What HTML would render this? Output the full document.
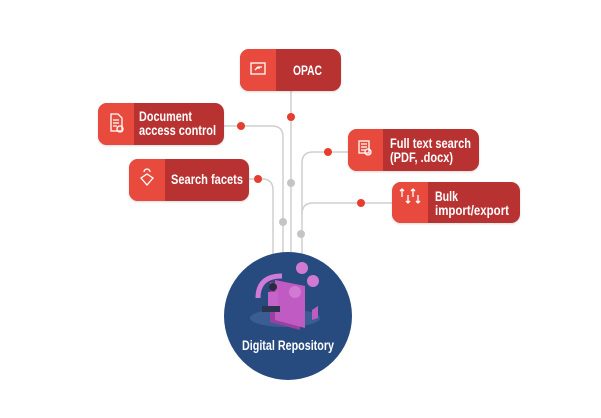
<!DOCTYPE html>
<html><head><style>
html,body{margin:0;padding:0;background:#fff;}
svg{display:block;}
text{font-family:"Liberation Sans",sans-serif;font-weight:bold;fill:#fff;font-size:13.5px;}
</style></head><body>
<svg width="601" height="418" viewBox="0 0 601 418" xmlns="http://www.w3.org/2000/svg">
<defs>
<filter id="sh" x="-10%" y="-20%" width="120%" height="140%"><feDropShadow dx="0" dy="1" stdDeviation="1" flood-color="#000" flood-opacity="0.15"/></filter>
<clipPath id="c1"><rect x="240" y="49" width="101" height="42" rx="9"/></clipPath>
<clipPath id="c2"><rect x="98" y="103" width="126" height="42" rx="9"/></clipPath>
<clipPath id="c3"><rect x="129" y="159" width="120" height="42" rx="9"/></clipPath>
<clipPath id="c4"><rect x="348" y="129" width="131" height="42" rx="9"/></clipPath>
<clipPath id="c5"><rect x="392" y="182" width="128" height="41" rx="9"/></clipPath>
</defs>
<g fill="none" stroke="#cfcfcf" stroke-width="1.5">
<path d="M291 91 V260"/>
<path d="M224 126 H272 Q283 126 283 137 V260"/>
<path d="M249 179 H262 Q273 179 273 190 V260"/>
<path d="M348 152 H313 Q302 152 302 163 V260"/>
<path d="M392 203 H313 Q302 203 302 214"/>
</g>
<g fill="#e53d2f">
<circle cx="291" cy="117" r="4"/>
<circle cx="241" cy="126" r="4"/>
<circle cx="258" cy="179" r="4"/>
<circle cx="328" cy="152" r="4"/>
<circle cx="361" cy="203" r="4"/>
</g>
<g fill="#c4c4c4">
<circle cx="291" cy="183" r="4"/>
<circle cx="283" cy="222" r="4"/>
<circle cx="301" cy="234" r="4"/>
</g>
<circle cx="288" cy="316" r="64" fill="#274a7f"/>
<ellipse cx="285" cy="318" rx="35" ry="9" fill="#3a5d94"/>
<path d="M270 282 L300 288 L300 330 L270 322 Z" fill="#9b3fa0"/>
<path d="M275 280 L305 286 L305 328 L275 320 Z" fill="#c15bc4"/>
<path d="M258 298 Q258 276 282 276" fill="none" stroke="#d27bd6" stroke-width="5"/>
<circle cx="302" cy="268" r="6" fill="#d07ad3"/>
<circle cx="313" cy="281" r="6" fill="#d07ad3"/>
<circle cx="295" cy="292" r="6" fill="#d07ad3"/>
<circle cx="273" cy="287" r="4" fill="#2a2a3a"/>
<path d="M268 292 h10 v14 h-10z" fill="#c663c9"/>
<path d="M262 306 h18 v6 h-18z" fill="#2a3650"/>
<path d="M312 310 l6 -4 l0 12 l-6 2z" fill="#c15bc4"/>
<text x="288" y="350" text-anchor="middle" font-size="14" textLength="92" lengthAdjust="spacingAndGlyphs">Digital Repository</text>
<g filter="url(#sh)">
<g clip-path="url(#c1)"><rect x="240" y="49" width="101" height="42" fill="#b83333"/><rect x="240" y="49" width="36" height="42" fill="#e84c3d"/></g>
<g clip-path="url(#c2)"><rect x="98" y="103" width="126" height="42" fill="#b83333"/><rect x="98" y="103" width="36" height="42" fill="#e84c3d"/></g>
<g clip-path="url(#c3)"><rect x="129" y="159" width="120" height="42" fill="#b83333"/><rect x="129" y="159" width="36" height="42" fill="#e84c3d"/></g>
<g clip-path="url(#c4)"><rect x="348" y="129" width="131" height="42" fill="#b83333"/><rect x="348" y="129" width="35" height="42" fill="#e84c3d"/></g>
<g clip-path="url(#c5)"><rect x="392" y="182" width="128" height="41" fill="#b83333"/><rect x="392" y="182" width="36" height="41" fill="#e84c3d"/></g>
</g>
<g fill="none" stroke="#fff" stroke-width="1.3">
<rect x="251" y="63" width="14" height="11"/>
<path d="M255 70 l3 -3 h4 M256 68 h4"/>
<path d="M111 114 h7 l4 4 v13 h-11z M113 120 h6 M113 123 h6 M113 126 h4"/>
<circle cx="120" cy="129" r="3"/>
<path d="M141 178 l6 -4 l6 4 l-6 7z M144 172 a3 3 0 1 1 6 0"/>
<path d="M359 141 h10 v12 h-10z M361 144 h6 M361 147 h6 M361 150 h4"/>
<circle cx="368" cy="152" r="3"/>
<path d="M402 197 v-8 m-2 2 l2 -2 l2 2 M408 195 v8 m-2 -2 l2 2 l2 -2 M413 197 v-8 m-2 2 l2 -2 l2 2 M418 195 v8 m-2 -2 l2 2 l2 -2"/>
</g>
<text x="293" y="75" textLength="29" lengthAdjust="spacingAndGlyphs">OPAC</text>
<text x="139" y="121" textLength="53" lengthAdjust="spacingAndGlyphs">Document</text>
<text x="139" y="135" textLength="77" lengthAdjust="spacingAndGlyphs">access control</text>
<text x="171" y="184" textLength="72" lengthAdjust="spacingAndGlyphs">Search facets</text>
<text x="390" y="148" textLength="81" lengthAdjust="spacingAndGlyphs">Full text search</text>
<text x="390" y="162" textLength="63" lengthAdjust="spacingAndGlyphs">(PDF, .docx)</text>
<text x="435" y="201" textLength="23" lengthAdjust="spacingAndGlyphs">Bulk</text>
<text x="435" y="215" textLength="74" lengthAdjust="spacingAndGlyphs">import/export</text>
</svg>
</body></html>
